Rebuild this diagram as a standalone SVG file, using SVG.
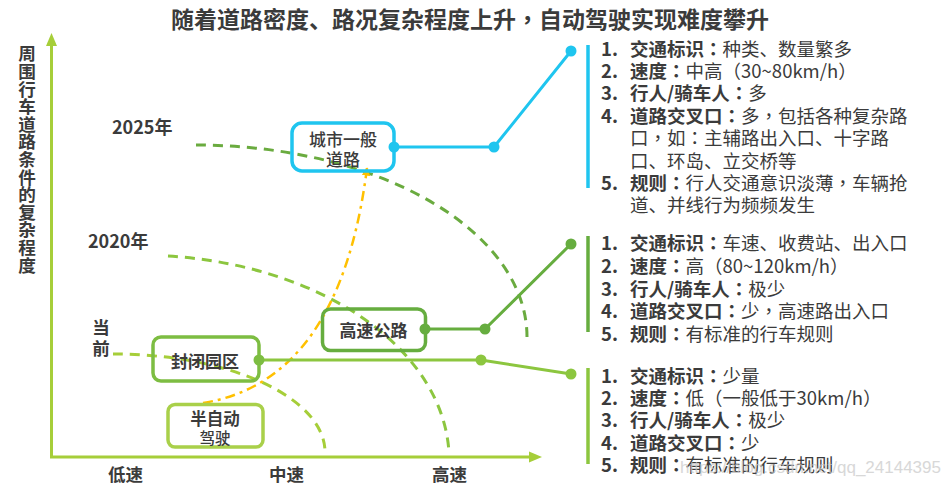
<svg xmlns="http://www.w3.org/2000/svg" width="950" height="487" viewBox="0 0 950 487">
<defs>
<style>
.t{font-family:"Noto Sans CJK SC","Noto Sans",sans-serif;fill:#3b3b3b}
.p{font-family:"Noto Sans CJK TC","Noto Sans CJK SC",sans-serif}
.b{font-weight:700}
.m{font-weight:500}
.li{font-size:18.5px}
.bx{font-size:17px}
.dash{fill:none;stroke-width:3;stroke-dasharray:10 7}
.box{fill:none;stroke-width:3.5}
.con{fill:none;stroke-width:3}
</style>
<marker id="ya" viewBox="0 0 10 10" refX="9" refY="5" markerWidth="3.4" markerHeight="3.4" orient="auto" markerUnits="strokeWidth">
<path d="M0,0 L10,5 L0,10 Z" fill="#ffc000"/>
</marker>
</defs>
<rect width="950" height="487" fill="#ffffff"/>

<text class="t b" x="470" y="28" font-size="23" text-anchor="middle">随着道路密度、路况复杂程度上升<tspan class="p">，</tspan>自动驾驶实现难度攀升</text>

<g id="axes">
<line x1="51.5" y1="458" x2="51.5" y2="44" stroke="#a6ce39" stroke-width="3"/>
<path d="M51.5,33 L57,46 L46,46 Z" fill="#a6ce39"/>
<line x1="50" y1="457" x2="530" y2="457" stroke="#a6ce39" stroke-width="3"/>
<path d="M542,457 L529,451.5 L529,462.5 Z" fill="#a6ce39"/>
<text class="t b" x="27" y="45" font-size="17.6" writing-mode="tb">周围行车道路条件的复杂程度</text>
<text class="t b" x="125.5" y="481" font-size="17.5" text-anchor="middle">低速</text>
<text class="t b" x="286.5" y="481" font-size="17.5" text-anchor="middle">中速</text>
<text class="t b" x="449.5" y="481" font-size="17.5" text-anchor="middle">高速</text>
</g>

<g id="eras">
<path class="dash" d="M196,145 A331,192 0 0 1 527,337" stroke="#6aab3f"/>
<path class="dash" d="M168,256 A309,205 0 0 1 449,453" stroke="#8cc63f"/>
<path class="dash" d="M113,354 A212,98 0 0 1 325,452" stroke="#a6ce39"/>
<text class="t b" x="112" y="134" font-size="18">2025年</text>
<text class="t b" x="88" y="248" font-size="18">2020年</text>
<text class="t b" x="101" y="334" font-size="17.5" text-anchor="middle">当</text>
<text class="t b" x="101" y="355" font-size="17.5" text-anchor="middle">前</text>
</g>

<g id="connectors">
<path d="M203,403 Q340,381 367,168" fill="none" stroke="#ffc000" stroke-width="2.5" stroke-dasharray="10 5 3 5" marker-end="url(#ya)"/>
<polyline class="con" points="394,147 494,147 571,51" stroke="#1fc5ef"/>
<circle cx="394" cy="147" r="5.5" fill="#1fc5ef"/>
<circle cx="494" cy="147" r="5.5" fill="#1fc5ef"/>
<circle cx="571" cy="51" r="5.5" fill="#1fc5ef"/>
<polyline class="con" points="425,329 485,329 571,244" stroke="#66ad3f"/>
<circle cx="425" cy="329" r="5.5" fill="#66ad3f"/>
<circle cx="485" cy="329" r="5.5" fill="#66ad3f"/>
<circle cx="571" cy="244" r="5.5" fill="#66ad3f"/>
<polyline class="con" points="259,360 481,360 571,374" stroke="#8cc63f"/>
<circle cx="259" cy="360" r="5.5" fill="#7dbd42"/>
<circle cx="481" cy="360" r="5.5" fill="#8cc63f"/>
<circle cx="571" cy="374" r="5.5" fill="#8cc63f"/>
</g>

<g id="node-city">
<rect class="box" x="292" y="123" width="102" height="48" rx="10" stroke="#1fc5ef"/>
<text class="t m bx" x="343" y="146" text-anchor="middle">城市一般</text>
<text class="t m bx" x="343" y="166" text-anchor="middle">道路</text>
</g>

<g id="node-highway">
<rect class="box" x="322.5" y="309" width="103" height="41.5" rx="8" stroke="#66ad3f"/>
<text class="t b bx" x="373.5" y="337" text-anchor="middle">高速公路</text>
</g>

<g id="node-park">
<rect class="box" x="153" y="337" width="106" height="44" rx="8" stroke="#7dbd42"/>
<text class="t b bx" x="205" y="368" text-anchor="middle">封闭园区</text>
</g>

<g id="node-semi">
<rect class="box" x="168" y="404.5" width="95" height="42.5" rx="7" stroke="#a9d04a"/>
<text class="t b" x="215" y="425" font-size="16.5" text-anchor="middle">半自动</text>
<text class="t m" x="215" y="444" font-size="15.5" text-anchor="middle">驾驶</text>
</g>

<g id="list-city">
<line x1="588" y1="45" x2="588" y2="188" stroke="#1fc5ef" stroke-width="3.5"/>
<text class="t li" y="55.5"><tspan class="b" x="601">1.</tspan><tspan class="b" x="630">交通标识<tspan class="p">：</tspan></tspan>种类、数量繁多</text>
<text class="t li" y="77.9"><tspan class="b" x="601">2.</tspan><tspan class="b" x="630">速度<tspan class="p">：</tspan></tspan>中高<tspan class="p">（</tspan>30~80km/h<tspan class="p">）</tspan></text>
<text class="t li" y="100.3"><tspan class="b" x="601">3.</tspan><tspan class="b" x="630">行人/骑车人<tspan class="p">：</tspan></tspan>多</text>
<text class="t li" y="122.7"><tspan class="b" x="601">4.</tspan><tspan class="b" x="630">道路交叉口<tspan class="p">：</tspan></tspan>多<tspan class="p">，</tspan>包括各种复杂路</text>
<text class="t li" x="630" y="145.1">口<tspan class="p">，</tspan>如<tspan class="p">：</tspan>主辅路出入口、十字路</text>
<text class="t li" x="630" y="167.5">口、环岛、立交桥等</text>
<text class="t li" y="189.9"><tspan class="b" x="601">5.</tspan><tspan class="b" x="630">规则<tspan class="p">：</tspan></tspan>行人交通意识淡薄<tspan class="p">，</tspan>车辆抢</text>
<text class="t li" x="630" y="212.3">道、并线行为频频发生</text>
</g>

<g id="list-highway">
<line x1="588" y1="236" x2="588" y2="332" stroke="#66ad3f" stroke-width="3.5"/>
<text class="t li" y="250.4"><tspan class="b" x="601">1.</tspan><tspan class="b" x="630">交通标识<tspan class="p">：</tspan></tspan>车速、收费站、出入口</text>
<text class="t li" y="273"><tspan class="b" x="601">2.</tspan><tspan class="b" x="630">速度<tspan class="p">：</tspan></tspan>高<tspan class="p">（</tspan>80~120km/h<tspan class="p">）</tspan></text>
<text class="t li" y="295.7"><tspan class="b" x="601">3.</tspan><tspan class="b" x="630">行人/骑车人<tspan class="p">：</tspan></tspan>极少</text>
<text class="t li" y="318.3"><tspan class="b" x="601">4.</tspan><tspan class="b" x="630">道路交叉口<tspan class="p">：</tspan></tspan>少<tspan class="p">，</tspan>高速路出入口</text>
<text class="t li" y="341"><tspan class="b" x="601">5.</tspan><tspan class="b" x="630">规则<tspan class="p">：</tspan></tspan>有标准的行车规则</text>
</g>

<g id="list-park">
<line x1="588" y1="368" x2="588" y2="464" stroke="#8cc63f" stroke-width="3.5"/>
<text class="t li" y="383"><tspan class="b" x="601">1.</tspan><tspan class="b" x="630">交通标识<tspan class="p">：</tspan></tspan>少量</text>
<text class="t li" y="405.2"><tspan class="b" x="601">2.</tspan><tspan class="b" x="630">速度<tspan class="p">：</tspan></tspan>低<tspan class="p">（</tspan>一般低于30km/h<tspan class="p">）</tspan></text>
<text class="t li" y="427.4"><tspan class="b" x="601">3.</tspan><tspan class="b" x="630">行人/骑车人<tspan class="p">：</tspan></tspan>极少</text>
<text class="t li" y="449.6"><tspan class="b" x="601">4.</tspan><tspan class="b" x="630">道路交叉口<tspan class="p">：</tspan></tspan>少</text>
<text class="t li" y="471.8"><tspan class="b" x="601">5.</tspan><tspan class="b" x="630">规则<tspan class="p">：</tspan></tspan>有标准的行车规则</text>
</g>

<text x="941" y="473" font-family="Liberation Sans, sans-serif" font-size="17" text-anchor="end" fill="#c8c8c8" opacity="0.7">https://blog.csdn.net/qq_24144395</text>
</svg>
